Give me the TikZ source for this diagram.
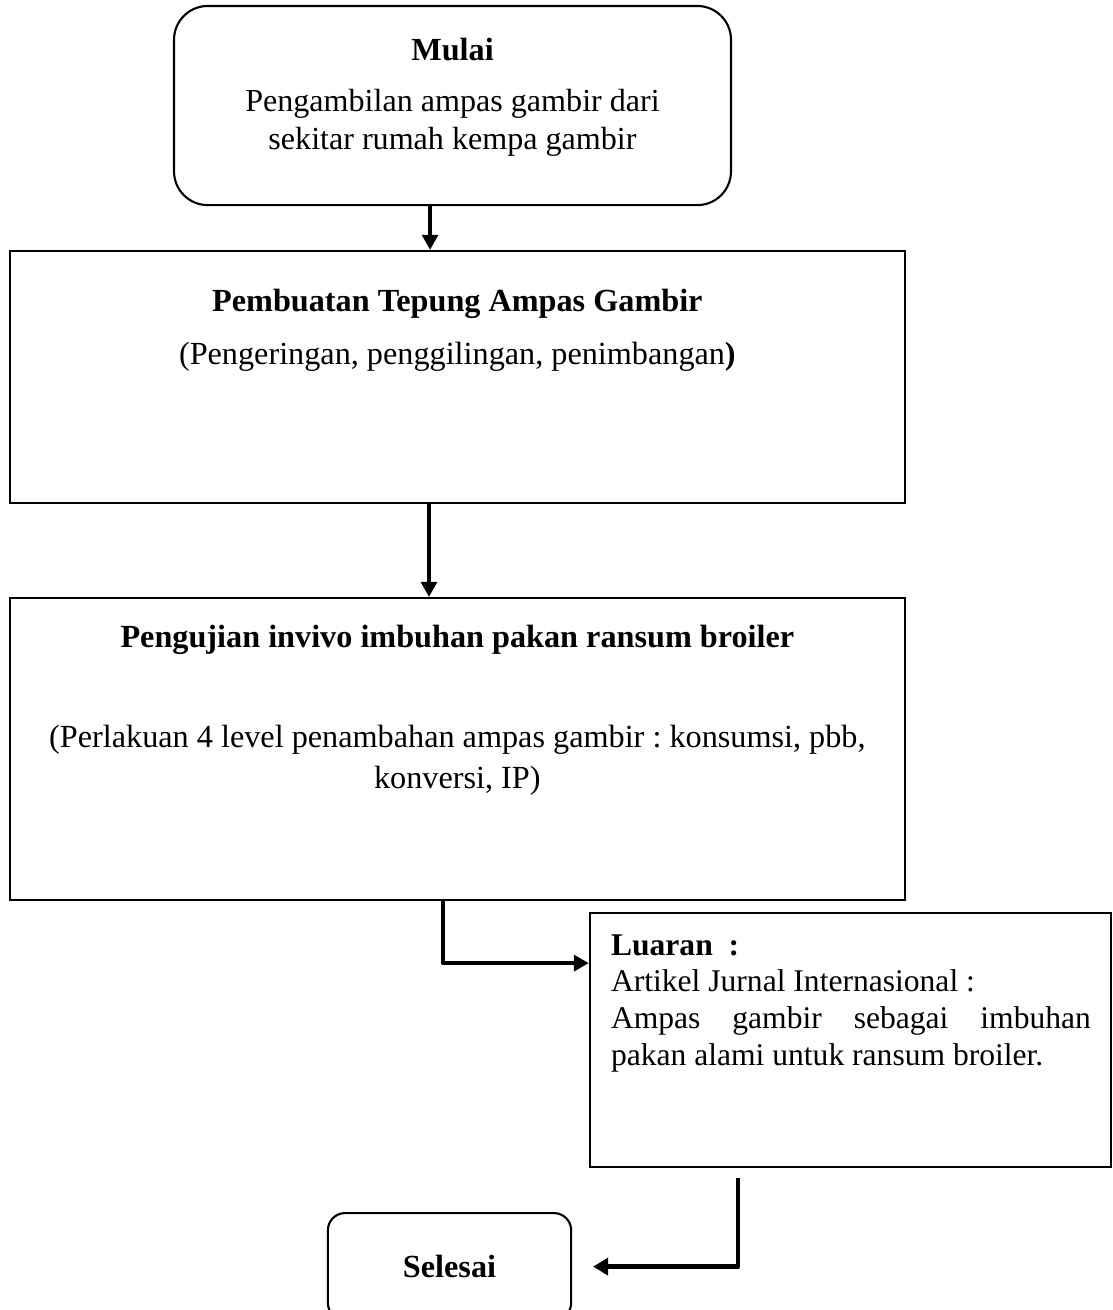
\documentclass[tikz,border=0pt]{standalone}
\usepackage{fontspec}
\setmainfont{Liberation Serif}
\frenchspacing
\usetikzlibrary{arrows.meta, calc, positioning}

\begin{document}
\begin{tikzpicture}[line cap=round,line join=round,>={Triangle[width=6pt,length=5.7pt]},x=1.0cm,y=1.0cm,
  box/.style={draw, line width=0.8pt, line join=miter, inner sep=0pt},
  rbox/.style={box, rounded corners=0.45cm},
  txt/.style={inner sep=0pt, align=center, font=\fontsize{12.25}{13.8}\selectfont},
  ttl/.style={txt, font=\fontsize{12.25}{13.8}\selectfont\bfseries},
  arr/.style={->, line width=1.3pt, line cap=butt}]
\useasboundingbox (0, 0) rectangle (14.86, -17.5);
\clip (0, 0) rectangle (14.86, -17.5);

\coordinate (a1) at (5.745, 0.0);
\coordinate (a2) at (5.731, 0.0);
\coordinate (bend) at (5.918, -12.866);
\coordinate (fin) at (9.86, -16.99);

% boxes
\node[rbox, minimum width=7.44cm, minimum height=2.66cm] (mulai) at (6.045, -1.41) {};
\node[ttl, below=0.43cm of mulai.north] (mulaiT) {Mulai};
\node[txt, font=\fontsize{12.2}{14.4}\selectfont, below=1.12cm of mulai.north] (mulaiD) {Pengambilan ampas gambir dari\\ sekitar rumah kempa gambir};

\node[box, minimum width=11.96cm, minimum height=3.37cm] (tepung) at (6.11, -5.037) {};
\node[ttl, below=0.52cm of tepung.north] (tepungT) {Pembuatan Tepung Ampas Gambir};
\node[txt, below=1.22cm of tepung.north] (tepungD) {(Pengeringan, penggilingan, penimbangan\textbf{)}};

\node[box, minimum width=11.96cm, minimum height=4.035cm] (uji) at (6.11, -10.006) {};
\node[ttl, below=0.37cm of uji.north] (ujiT) {Pengujian invivo imbuhan pakan ransum broiler};
\node[txt, font=\fontsize{12.25}{15.6}\selectfont, below=1.70cm of uji.north] (ujiD) {(Perlakuan 4 level penambahan ampas gambir : konsumsi, pbb,\\ konversi, IP)};

\node[box, minimum width=6.96cm, minimum height=3.39cm] (luaran) at (11.36, -13.894) {};
\node[txt, font=\fontsize{12}{14}\selectfont, align=justify, text width=6.41cm, below right=0.29cm and 0.29cm of luaran.north west] (luaranT) {\hyphenpenalty=10000 \textbf{Luaran~ :}\\ Artikel Jurnal Internasional :\\ Ampas gambir sebagai imbuhan pakan alami untuk ransum broiler.};

\node[rbox, rounded corners=0.23cm, minimum width=3.25cm, minimum height=1.43cm, font=\fontsize{12.25}{13.8}\selectfont\bfseries] (selesai) at (6.005, -16.92) {Selesai};

% arrows
\draw[arr] (mulai.south -| a1) -- (tepung.north -| a1);
\draw[arr] (tepung.south -| a2) -- (uji.north -| a2);
\draw[arr, line width=1.5pt] (uji.south -| bend) |- (luaran.west |- bend);
\draw[arr, line width=1.8pt, >={Triangle[width=6.5pt,length=5.7pt]}, shorten <=0.13cm, shorten >=0.28cm] (luaran.south -| fin) |- (selesai.east);
\end{tikzpicture}
\end{document}
